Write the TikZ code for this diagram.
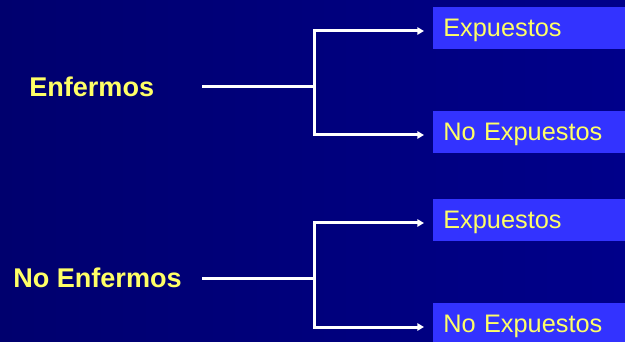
\documentclass[tikz,border=0pt]{standalone}
\usepackage{fontspec}
\setmainfont{Liberation Sans}
\usetikzlibrary{arrows.meta}
\definecolor{navyleft}{RGB}{0,0,110}
\definecolor{navyright}{RGB}{0,0,138}
\definecolor{boxblue}{RGB}{51,51,255}
\definecolor{labelyellow}{RGB}{255,255,102}
\tikzset{
  group/.style={text=labelyellow, font=\fontsize{20.3}{22}\selectfont\bfseries, anchor=west, inner sep=0pt},
  outcome/.style={fill=boxblue, text=labelyellow, font=\fontsize{19}{21}\selectfont,
    anchor=west, minimum height=31.5pt, text width=142.5pt, text depth=0pt,
    inner xsep=7.5pt, inner ysep=0pt, align=left},
  branch/.style={draw=white, line width=2.25pt},
  tip/.style={-{Triangle[length=5pt,width=5.5pt]}, shorten >=6.75pt}
}
\begin{document}
\begin{tikzpicture}[x=0.75pt, y=-0.75pt]
    % Background
    \useasboundingbox (0,0) rectangle (625,342);
    \clip (0,0) rectangle (625,342);
    \shade[left color=navyleft, right color=navyright] (0,0) rectangle (625,342);
    % Groups
    \node[group] (enf) at (29,87) {Enfermos};
    \node[group] (noenf) at (13,278) {No Enfermos};
    % Outcomes
    \node[outcome] (exp1) at (433,28) {Expuestos};
    \node[outcome] (noexp1) at (433,132) {No Expuestos};
    \node[outcome] (exp2) at (433,220) {Expuestos};
    \node[outcome] (noexp2) at (433,324) {No Expuestos};
    % Branch points
    \coordinate (start1) at (202,87);
    \coordinate (fork1) at (314,87);
    \coordinate (start2) at (202,278);
    \coordinate (fork2) at (314,278);
    % Connectors
    \draw[branch] (start1) -- (fork1);
    \draw[branch, tip] (fork1) |- ([yshift=-2.25pt]exp1.west);
    \draw[branch, tip] (fork1) |- ([yshift=-2.25pt]noexp1.west);
    \draw[branch] (start2) -- (fork2);
    \draw[branch, tip] (fork2) |- ([yshift=-2.25pt]exp2.west);
    \draw[branch, tip] (fork2) |- ([yshift=-2.25pt]noexp2.west);
\end{tikzpicture}
\end{document}
